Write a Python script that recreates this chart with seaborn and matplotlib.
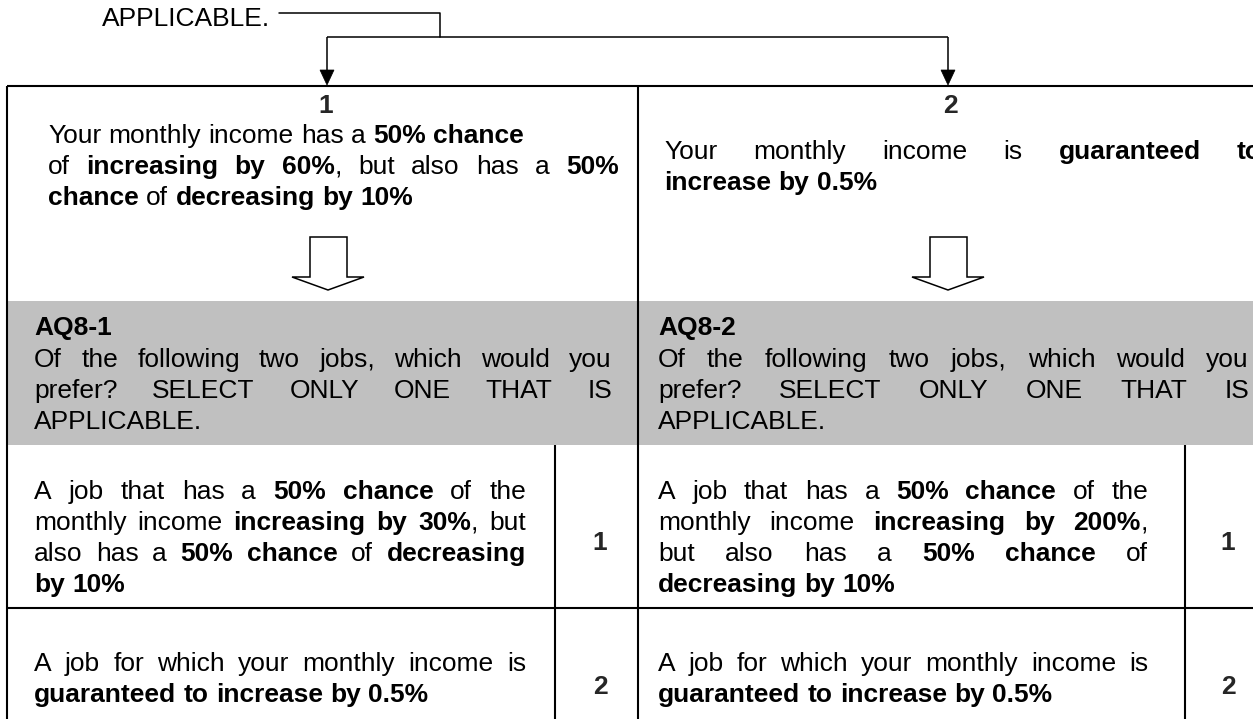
import matplotlib
matplotlib.use("Agg")
import matplotlib.pyplot as plt
import seaborn as sns
from matplotlib.patches import Polygon, Rectangle


# =========================================================
# 0. Content (text of the questionnaire block)
# =========================================================

intro_tail = "APPLICABLE."
option_labels = ["1", "2"]

# ** marks bold runs
option_lines = [
    ["Your monthly income has a **50% chance**",
     "of **increasing by 60%**, but also has a **50%**",
     "**chance** of **decreasing by 10%**"],
    ["Your monthly income is **guaranteed to**",
     "**increase by 0.5%**"],
]
option_justify = [[False, True, False], [True, False]]

question_ids = ["AQ8-1", "AQ8-2"]
question_lines = [
    "Of the following two jobs, which would you",
    "prefer? SELECT ONLY ONE THAT IS",
    "APPLICABLE.",
]

job_a_lines = [
    ["A job that has a **50% chance** of the",
     "monthly income **increasing by 30%**, but",
     "also has a **50% chance** of **decreasing**",
     "**by 10%**"],
    ["A job that has a **50% chance** of the",
     "monthly income **increasing by 200%**,",
     "but also has a **50% chance** of",
     "**decreasing by 10%**"],
]
job_b_lines = [
    ["A job for which your monthly income is",
     "**guaranteed to increase by 0.5%**"],
    ["A job for which your monthly income is",
     "**guaranteed to increase by 0.5%**"],
]
answer_codes = ["1", "2"]


# =========================================================
# 1. Canvas
# =========================================================

sns.set_theme(style="white")
plt.rcParams["font.family"] = ["Liberation Sans", "DejaVu Sans"]

W, H = 1253, 719
BODY = 19
GRAY = "#c0c0c0"
LW_TABLE = 1.5
LW_THIN = 1.1

fig = plt.figure(figsize=(W / 100, H / 100), dpi=100)
ax = fig.add_axes([0, 0, 1, 1])
ax.set_xlim(0, W)
ax.set_ylim(H, 0)
ax.axis("off")
renderer = fig.canvas.get_renderer()

_width_cache = {}


def text_width(s, bold, size):
    key = (s, bold, size)
    if key not in _width_cache:
        t = ax.text(0, 0, s, fontsize=size,
                    fontweight="bold" if bold else "normal")
        _width_cache[key] = t.get_window_extent(renderer).width
        t.remove()
    return _width_cache[key]


def parse(line):
    words = [[]]
    for i, run in enumerate(line.split("**")):
        bold = i % 2 == 1
        for j, part in enumerate(run.split(" ")):
            if j > 0:
                words.append([])
            if part:
                words[-1].append((part, bold))
    return [w for w in words if w]


def baseline(yc, size=BODY):
    return yc + 0.358 * size * 100 / 72


def draw_line(x0, yc, line, right=None, size=BODY):
    words = parse(line)
    widths = [sum(text_width(f, b, size) for f, b in w) for w in words]
    gap = text_width("a a", False, size) - text_width("aa", False, size)
    if right is not None and len(words) > 1:
        gap = (right - x0 - sum(widths)) / (len(words) - 1)
    x = x0
    for w, wd in zip(words, widths):
        xx = x
        for frag, bold in w:
            ax.text(xx, baseline(yc, size), frag, fontsize=size, color="black",
                    fontweight="bold" if bold else "normal",
                    ha="left", va="baseline", zorder=5)
            xx += text_width(frag, bold, size)
        x += wd + gap


def draw_block(x0, ys, lines, right, flags=None):
    for k, (y, line) in enumerate(zip(ys, lines)):
        just = flags[k] if flags is not None else k < len(lines) - 1
        draw_line(x0, y, line, right if just else None)


def hline(x1, x2, y, lw=LW_TABLE):
    ax.plot([x1, x2], [y, y], color="black", lw=lw, solid_capstyle="butt", zorder=4)


def vline(x, y1, y2, lw=LW_TABLE):
    ax.plot([x, x], [y1, y2], color="black", lw=lw, solid_capstyle="butt", zorder=4)


# =========================================================
# 2. Routing arrows on top
# =========================================================

ax.text(270, baseline(17, 19), intro_tail, fontsize=19,
        ha="right", va="baseline", color="black")
ax.plot([279, 440, 440], [13, 13, 37], color="black", lw=LW_THIN)
hline(327, 948, 37, lw=LW_THIN)
for xa in [327, 948]:
    vline(xa, 37, 72, lw=LW_THIN)
    ax.add_patch(Polygon([(xa - 7, 70), (xa + 7, 70), (xa, 85)],
                         closed=True, facecolor="black", edgecolor="black",
                         lw=0.5, zorder=4))


# =========================================================
# 3. Table
# =========================================================

TOP, GRAY_TOP, GRAY_BOT, ROW_LINE = 86, 301, 445, 608
COL_DIV = 638
INNER = [555, 1185]

ax.add_patch(Rectangle((7, GRAY_TOP), W - 7, GRAY_BOT - GRAY_TOP,
                       facecolor=GRAY, edgecolor="none", zorder=1))
hline(7, W, TOP)
vline(7, TOP, H)
vline(COL_DIV, TOP, H)
hline(7, W, ROW_LINE)
for xi in INNER:
    vline(xi, GRAY_BOT, H)

# option headers
for xc, lab in zip([326, 950], option_labels):
    ax.text(xc, baseline(104), lab, fontsize=BODY,
            fontweight="bold", ha="center", va="baseline", zorder=5)

# option descriptions
draw_block(48, [134, 165, 196], option_lines[0], 619, option_justify[0])
draw_block(664, [150, 181], option_lines[1], 1262, option_justify[1])

# hollow down arrows
for xc in [328, 948]:
    pts = [(xc - 18, 237), (xc + 19, 237), (xc + 19, 277), (xc + 36, 277),
           (xc, 290), (xc - 36, 277), (xc - 18, 277)]
    ax.add_patch(Polygon(pts, closed=True, facecolor="white",
                         edgecolor="black", lw=LW_THIN, zorder=3))

# question band
for x0, right, qid in zip([34, 658], [612, 1249], question_ids):
    draw_line(x0, 326, "**" + qid + "**")
    draw_block(x0, [358, 389, 420], question_lines, right)

# answer rows
for x0, right, k in zip([34, 658], [526, 1148], [0, 1]):
    draw_block(x0, [490, 521, 552, 583], job_a_lines[k], right)
    draw_block(x0, [662, 693], job_b_lines[k], right)

for xc in [600, 1228]:
    for yc, code in zip([541, 685], answer_codes):
        ax.text(xc, baseline(yc), code, fontsize=BODY,
                fontweight="bold", ha="center", va="baseline", zorder=5)

fig.savefig("out.png", dpi=100)
